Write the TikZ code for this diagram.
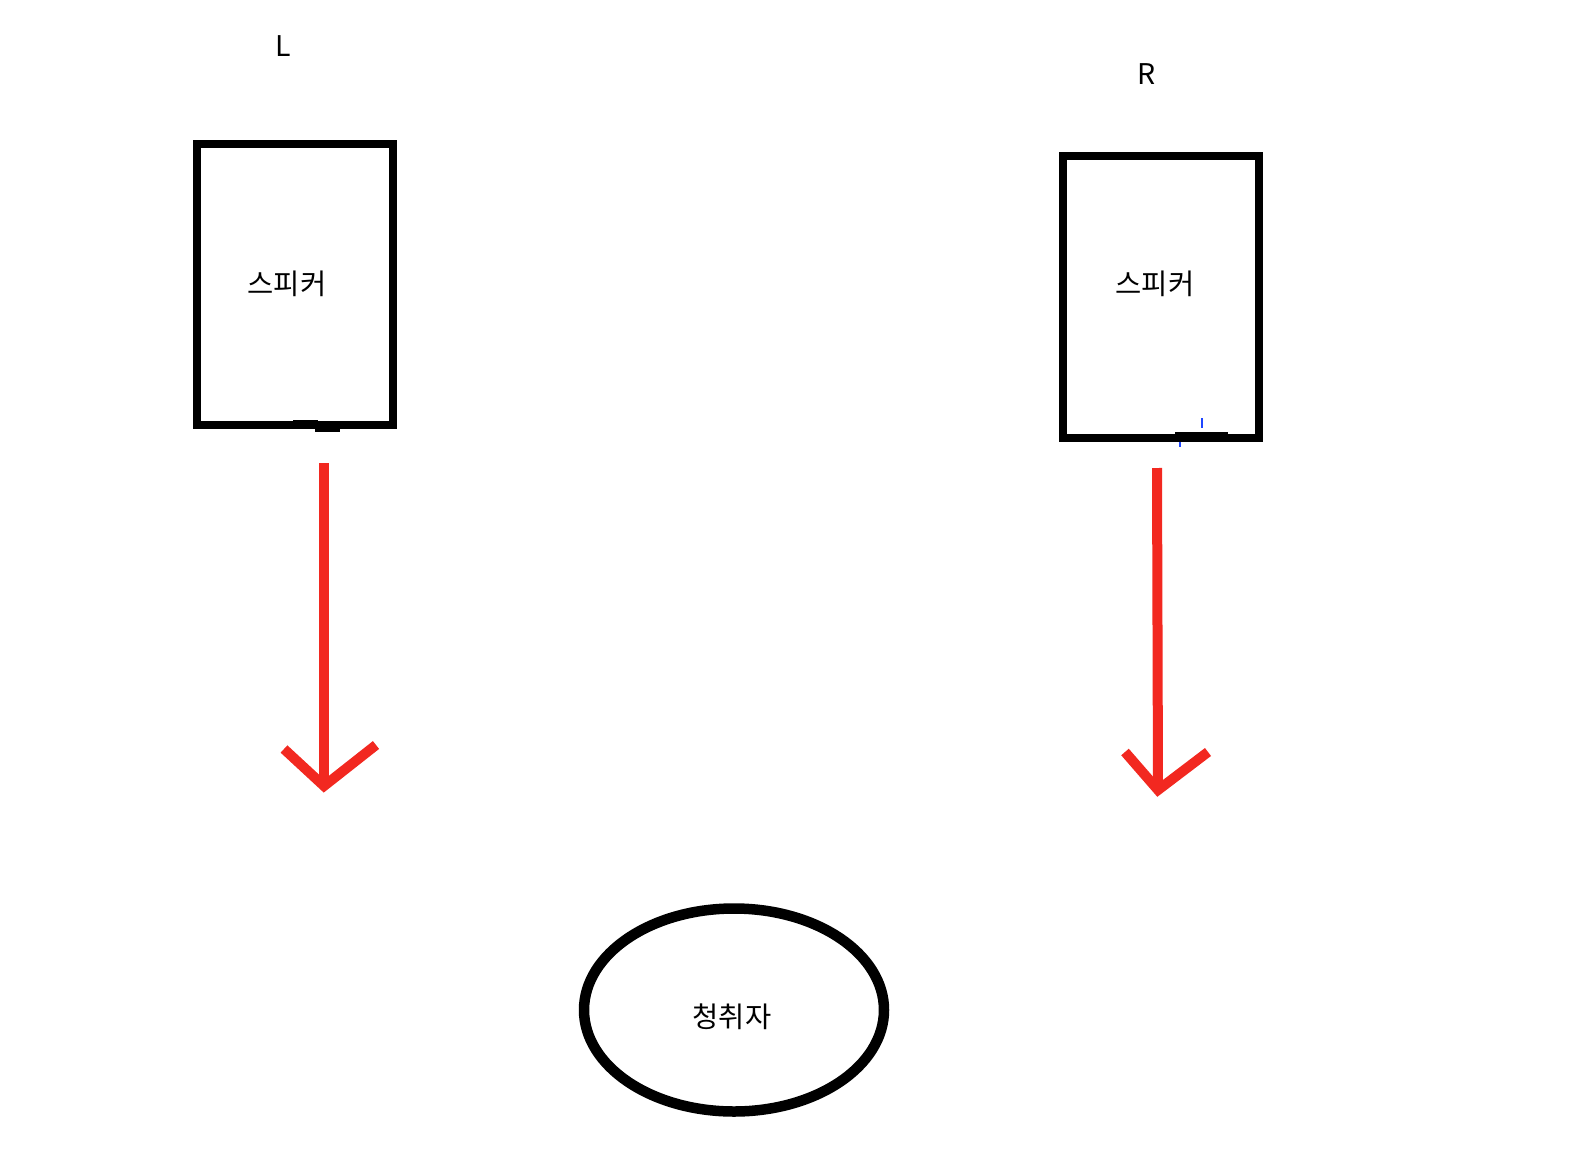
\documentclass[tikz,border=0pt]{standalone}
\usepackage{fontspec}
\setmainfont{Noto Sans CJK KR}
\usetikzlibrary{shapes.geometric}
\definecolor{arrred}{RGB}{242,40,32}
\definecolor{tickblue}{RGB}{30,70,255}
\tikzset{
  spkbox/.style={draw, line width=7.5pt, inner sep=0pt},
  lis/.style={draw, ellipse, line width=10.5pt, inner sep=0pt},
  lab/.style={font=\fontsize{28.5}{31}\selectfont, inner sep=0pt},
  ray/.style={arrred, line width=10pt}}

\begin{document}
\begin{tikzpicture}[x=1pt,y=-1pt]
\useasboundingbox (0,0) rectangle (1588,1154);
	% speakers
	\node[spkbox, minimum width=196pt, minimum height=281pt] (spkL) at (295,284.5) {};
	\node[spkbox, minimum width=196pt, minimum height=282pt] (spkR) at (1161,297) {};
	\node[lab] (txtL) at (287,284) {스피커};
	\node[lab] (txtR) at (1155,284) {스피커};
	\node[lab] (chL) at (283,46) {L};
	\node[lab] (chR) at (1147,74) {R};
	% listener
	\node[lis, minimum width=300pt, minimum height=203pt] (lis) at (734,1010) {};
	\node[lab] (txtLis) at (732,1017) {청취자};
	% stray marks
	\draw[line width=3pt] (293,421) -- (318,421);
	\draw[line width=3pt] (315,430.5) -- (340,430.5);
	\draw[line width=3pt] (1175,433.5) -- (1228,433.5);
	\draw[tickblue, line width=1.5pt] (1202,418) -- (1202,428);
	\draw[tickblue, line width=1.5pt] (1180,442) -- (1180,447);
	% sound
	\coordinate (lTop) at (324,463);
	\coordinate (lTip) at (324,786);
	\coordinate (lA) at (284,749);
	\coordinate (lB) at (376,745);
	\coordinate (rTop) at (1157,468);
	\coordinate (rTip) at (1158,790);
	\coordinate (rA) at (1125,752);
	\coordinate (rB) at (1208,752);
\draw[ray] (lTop) -- (lTip);\draw[ray, line join=miter] (lA) -- (lTip) -- (lB);
\draw[ray] (rTop) -- (rTip);\draw[ray, line join=miter] (rA) -- (rTip) -- (rB);
\end{tikzpicture}
\end{document}
